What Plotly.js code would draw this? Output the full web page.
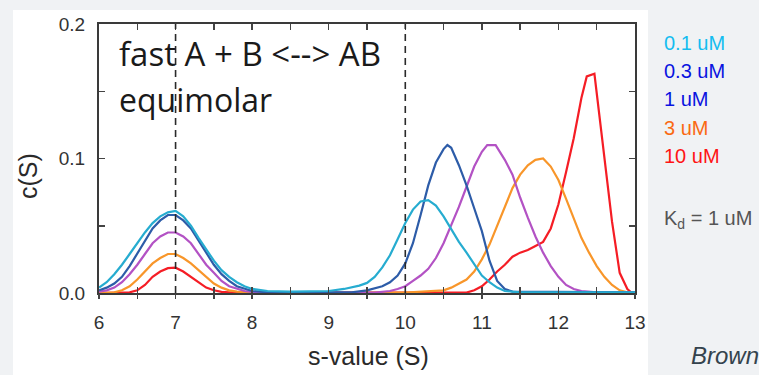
<!DOCTYPE html>
<html>
<head>
<meta charset="utf-8">
<script src="https://cdn.plot.ly/plotly-3.0.1.min.js"></script>
<style>
  html, body { margin: 0; padding: 0; background: #f0f2f4; }
  #chart { width: 759px; height: 375px; }
</style>
</head>
<body>
<div id="chart"></div>
<script>
// ---- Data ----
const seriesNames = ["0.1 uM", "0.3 uM", "1 uM", "3 uM", "10 uM"];
const labelColors = ["#14bdf0", "#0a14e0", "#0a14e0", "#fa6a12", "#ff1414"];
const curveColors = ["#26acd0", "#2d5ca8", "#b352c4", "#f8962a", "#f51d25"];

const x_01uM = [6.0,6.1,6.2,6.3,6.4,6.5,6.6,6.7,6.8,6.9,7.0,7.1,7.2,7.3,7.4,7.5,7.6,7.7,7.8,7.9,8.0,8.2,8.5,9.0,9.2,9.4,9.5,9.6,9.7,9.8,9.9,10.0,10.1,10.2,10.3,10.4,10.5,10.6,10.7,10.8,10.9,11.0,11.1,11.2,11.3,11.5,13.0];
const y_01uM = [0.004,0.008,0.014,0.021,0.029,0.037,0.045,0.052,0.057,0.060,0.061,0.057,0.050,0.041,0.032,0.024,0.017,0.012,0.008,0.005,0.003,0.0015,0.001,0.0015,0.003,0.0055,0.0075,0.012,0.019,0.028,0.040,0.052,0.062,0.068,0.069,0.065,0.057,0.047,0.038,0.030,0.021,0.013,0.008,0.004,0.0015,0.0005,0.0005];

const x_03uM = [6.0,6.1,6.2,6.3,6.4,6.5,6.6,6.7,6.8,6.9,7.0,7.1,7.2,7.3,7.4,7.5,7.6,7.7,7.8,7.9,8.0,8.2,9.3,9.5,9.7,9.8,9.9,10.0,10.1,10.2,10.3,10.4,10.5,10.55,10.6,10.7,10.8,10.9,11.0,11.1,11.2,11.3,11.4,13.0];
const y_03uM = [0.002,0.004,0.007,0.012,0.020,0.029,0.039,0.048,0.054,0.058,0.058,0.054,0.048,0.039,0.030,0.021,0.014,0.009,0.005,0.003,0.0015,0.0005,0.0005,0.002,0.005,0.008,0.013,0.022,0.037,0.058,0.080,0.097,0.107,0.110,0.108,0.095,0.080,0.063,0.046,0.024,0.009,0.003,0.001,0.0005];

const x_1uM = [6.0,6.1,6.2,6.3,6.4,6.5,6.6,6.7,6.8,6.9,7.0,7.1,7.2,7.3,7.4,7.5,7.6,7.7,7.8,7.9,8.0,8.2,9.6,9.8,9.9,10.0,10.1,10.2,10.3,10.4,10.5,10.6,10.7,10.8,10.9,11.0,11.07,11.18,11.3,11.4,11.5,11.6,11.7,11.8,11.9,12.0,12.1,12.2,12.3,12.5,13.0];
const y_1uM = [0.001,0.002,0.004,0.008,0.014,0.021,0.029,0.037,0.042,0.045,0.045,0.042,0.037,0.029,0.021,0.015,0.009,0.005,0.003,0.0015,0.0008,0.0003,0.0003,0.0015,0.003,0.005,0.009,0.013,0.018,0.026,0.037,0.050,0.064,0.079,0.094,0.105,0.110,0.110,0.099,0.088,0.071,0.056,0.042,0.030,0.020,0.012,0.006,0.003,0.0015,0.0005,0.0003];

const x_3uM = [6.0,6.2,6.3,6.4,6.5,6.6,6.7,6.8,6.9,7.0,7.1,7.2,7.3,7.4,7.5,7.6,7.7,7.8,8.0,10.0,10.2,10.4,10.5,10.6,10.7,10.8,10.9,11.0,11.1,11.2,11.3,11.4,11.5,11.6,11.7,11.8,11.9,12.0,12.1,12.2,12.3,12.4,12.5,12.6,12.7,12.8,12.9,13.0];
const y_3uM = [0,0.0005,0.002,0.005,0.010,0.016,0.022,0.026,0.029,0.029,0.026,0.022,0.017,0.012,0.007,0.004,0.002,0.001,0.0003,0.0003,0.001,0.0015,0.002,0.004,0.007,0.010,0.016,0.025,0.036,0.050,0.064,0.078,0.088,0.095,0.099,0.100,0.094,0.084,0.070,0.056,0.041,0.030,0.020,0.012,0.006,0.002,0.0005,0];

const x_10uM = [6.0,6.4,6.5,6.6,6.7,6.8,6.9,7.0,7.1,7.2,7.3,7.4,7.5,7.6,7.8,10.8,10.9,11.0,11.1,11.2,11.3,11.4,11.5,11.6,11.7,11.8,11.9,12.0,12.1,12.2,12.3,12.37,12.47,12.6,12.7,12.8,12.9,12.96];
const y_10uM = [0,0.0005,0.002,0.006,0.012,0.016,0.0185,0.0188,0.016,0.012,0.0075,0.004,0.002,0.0008,0.0002,0.0003,0.002,0.005,0.010,0.016,0.021,0.027,0.030,0.032,0.035,0.038,0.048,0.066,0.090,0.115,0.145,0.161,0.163,0.100,0.053,0.015,0.003,0];

const seriesX = [x_01uM, x_03uM, x_1uM, x_3uM, x_10uM];
const seriesY = [y_01uM, y_03uM, y_1uM, y_3uM, y_10uM];

const xTickVals = [6, 7, 8, 9, 10, 11, 12, 13];
const xTickText = ["6", "7", "8", "9", "10", "11", "12", "13"];
const yTickVals = [0, 0.1, 0.2];
const yTickText = ["0.0", "0.1", "0.2"];
const refLines = [7, 10];

// ---- Layout geometry ----
const W = 759, H = 375;
const M = {l: 99, r: 124, t: 24, b: 82};
const PW = W - M.l - M.r, PH = H - M.t - M.b;
const px = v => (v - M.l) / PW;          // page pixel -> paper x
const py = v => (H - M.b - v) / PH;      // page pixel -> paper y

const FONT = "Liberation Sans, Arial, sans-serif";

// Draw order: red first, cyan last
const order = [4, 3, 2, 1, 0];
const traces = order.map(i => ({
  type: "scatter", mode: "lines",
  x: seriesX[i], y: seriesY[i], name: seriesNames[i],
  line: {color: curveColors[i], width: 2.2},
  showlegend: false, hoverinfo: "skip"
}));
// helper trace so the crossing (outside) tick axis gets drawn
traces.push({type: "scatter", mode: "lines", x: [6, 13], y: [null, null], xaxis: "x2", showlegend: false, hoverinfo: "skip"});

const annotations = [];
seriesNames.forEach((n, i) => {
  annotations.push({
    xref: "paper", yref: "paper", x: px(662), y: py(43 + i * 28.2),
    xanchor: "left", yanchor: "middle", showarrow: false, text: n,
    font: {family: FONT, size: 20, color: labelColors[i]}
  });
});
annotations.push({
  xref: "paper", yref: "paper", x: px(662), y: py(219),
  xanchor: "left", yanchor: "middle", showarrow: false,
  text: "K<sub>d</sub> = 1 uM", font: {family: FONT, size: 20, color: "#555"}
});
annotations.push({
  xref: "paper", yref: "paper", x: px(689), y: py(355),
  xanchor: "left", yanchor: "middle", showarrow: false,
  text: "<i>Brown</i>", font: {family: FONT, size: 24, color: "#34434d"}
});
annotations.push({
  xref: "paper", yref: "paper", x: px(117), y: py(53),
  xanchor: "left", yanchor: "middle", showarrow: false,
  text: "fast A + B &lt;--&gt; AB", font: {family: "Open Sans, sans-serif", size: 33, color: "#1a1a1a"}
});
annotations.push({
  xref: "paper", yref: "paper", x: px(117), y: py(99),
  xanchor: "left", yanchor: "middle", showarrow: false,
  text: "equimolar", font: {family: "Open Sans, sans-serif", size: 32, color: "#1a1a1a"}
});
annotations.push({
  xref: "paper", yref: "paper", x: px(368), y: py(356),
  xanchor: "center", yanchor: "middle", showarrow: false,
  text: "s-value (S)", font: {family: FONT, size: 25, color: "#2a2a2a"}
});
annotations.push({
  xref: "paper", yref: "paper", x: px(28), y: py(176),
  xanchor: "center", yanchor: "middle", showarrow: false, textangle: -90,
  text: "c(S)", font: {family: FONT, size: 25, color: "#2a2a2a"}
});

const shapes = [
  {type: "rect", xref: "paper", yref: "paper", layer: "below",
   x0: px(13), x1: px(648), y0: py(375), y1: py(10),
   fillcolor: "#ffffff", line: {width: 0}}
];
refLines.forEach(v => shapes.push({
  type: "line", xref: "x", yref: "paper", x0: v, x1: v, y0: 0, y1: 1,
  line: {color: "#2a2a2a", width: 1.6, dash: "7px,5px"}, layer: "above"
}));

const axisCommon = {
  showgrid: false, zeroline: false, showline: true,
  linecolor: "#3a3a3a", linewidth: 2, mirror: "allticks",
  ticks: "inside", ticklen: 6, tickwidth: 1.5, tickcolor: "#444",
  tickfont: {family: FONT, size: 19, color: "#333"}
};

const layout = {
  width: W, height: H,
  margin: M,
  paper_bgcolor: "#f0f2f4",
  plot_bgcolor: "#ffffff",
  showlegend: false,
  xaxis: Object.assign({}, axisCommon, {
    range: [6, 13], tickmode: "array", tickvals: xTickVals, ticktext: xTickText,
    ticklabelstandoff: 11,
    minor: {dtick: 0.5, ticks: "inside", ticklen: 6, tickwidth: 1.5, tickcolor: "#444"}
  }),
  xaxis2: {
    overlaying: "x", anchor: "y", side: "bottom", range: [6, 13],
    showgrid: false, zeroline: false, showline: false, showticklabels: false,
    tickmode: "array", tickvals: xTickVals,
    ticks: "outside", ticklen: 5, tickwidth: 1.5, tickcolor: "#444",
    minor: {dtick: 0.5, ticks: "outside", ticklen: 5, tickwidth: 1.5, tickcolor: "#444"}
  },
  yaxis: Object.assign({}, axisCommon, {
    range: [0, 0.2], tickmode: "array", tickvals: yTickVals, ticktext: yTickText,
    ticklabelstandoff: 8,
    minor: {dtick: 0.05, ticks: "inside", ticklen: 6, tickwidth: 1.5, tickcolor: "#444"}
  }),
  annotations: annotations,
  shapes: shapes
};

Plotly.newPlot("chart", traces, layout, {staticPlot: true, displayModeBar: false});
</script>
</body>
</html>
